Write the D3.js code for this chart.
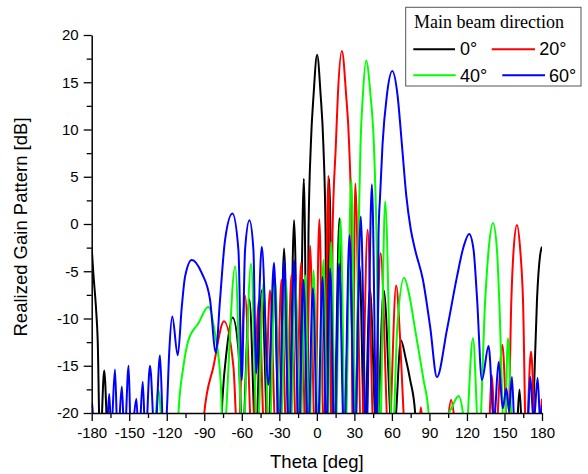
<!DOCTYPE html>
<html>
<head>
<meta charset="utf-8">
<script src="https://cdn.jsdelivr.net/npm/d3@7"></script>
<style>
  html, body { margin: 0; padding: 0; background: #fff; }
  svg { display: block; }
  .tick text { font-family: "Liberation Sans", Arial, sans-serif; font-size: 15px; fill: #000; }
</style>
</head>
<body>
<svg id="chart" width="588" height="474"></svg>
<script>
// ---------- data (theta [deg], realized gain [dB]) ----------
const xTicks = [-180, -150, -120, -90, -60, -30, 0, 30, 60, 90, 120, 150, 180];
const yTicks = [-20, -15, -10, -5, 0, 5, 10, 15, 20];
const seriesNames = ["0°", "20°", "40°", "60°"];
const seriesColors = ["#000000", "#ff0000", "#00ff00", "#0000ff"];

const beam0 = [
  [-180,-2.5],[-178.7,-5.2],[-176.6,-8.8],[-175.2,-12.3],[-173.3,-24],
  [-170,-15.5],[-166.8,-24],[-150,-30],[-100,-30],
  [-77.3,-24],[-75.5,-18.6],[-72,-13.3],[-67.3,-9.9],[-62.7,-13.3],[-61.1,-18.6],[-59.6,-23],
  [-53.9,-8.0],[-48.9,-23],
  [-44,-7.0],[-39,-23],
  [-34.2,-5.4],[-30.1,-23],
  [-26.2,-2.6],[-22.2,-23],
  [-18.2,0.4],[-14.3,-23],
  [-10.4,4.8],[-7.4,-24],
  [-6.7,-1.2],[-4.8,8.4],[-2.6,13.7],[0.2,17.9],[3.0,13.7],[5.2,8.4],[7.0,-1.2],[7.7,-24],
  [9.8,4.8],[13.6,-23],
  [18.1,0.6],[22.1,-23],
  [26.3,-2.5],[30.2,-23],
  [34.1,-4.4],[38.2,-23],
  [42.4,-6.8],[47.8,-23],
  [53.5,-7.0],[60.5,-23],
  [62.8,-21],[67.2,-12.3],[71,-14.2],[74.6,-16.5],[78.6,-20],[80,-24],[90,-30],[150,-30],
  [159.5,-23],[162,-17.5],[164.5,-23],
  [172,-24],[173.5,-18],[176,-8],[178.5,-3.3],[180,-2.4]
];

const beam20 = [
  [-180,-30],[-100,-30],[-91.5,-24],[-90,-20],[-82.7,-15.1],[-74.2,-10.3],[-66.7,-15.1],[-63.3,-23],
  [-57.4,-7.6],[-51.8,-23],
  [-46.3,-8.1],[-41.8,-23],
  [-37.5,-7.0],[-32.6,-23],
  [-28.3,-5.9],[-24.3,-23],
  [-20.3,-5.4],[-16.5,-23],
  [-12.6,-4.1],[-9,-23],
  [-5.4,-2.3],[-1.6,-23],
  [2.0,0.5],[5.6,-23],
  [9.3,5.1],[11.9,-24],
  [12.5,-1.2],[15.2,8.4],[16.8,13.65],[20,18.3],[23.4,13.65],[25.8,8.4],[27.6,-0.5],[28.5,-24],
  [30.7,4.3],[35.6,-23],
  [40.6,-0.6],[45.6,-23],
  [51,-3.1],[57.5,-23],
  [63.4,-6.5],[66.5,-12],[69.3,-20],[70.5,-24],
  [80,-24],[83.2,-19.4],[86,-24],[95,-30],
  [103.8,-22],[107.3,-18.6],[111.3,-22],[120,-30],[130,-30],
  [137.2,-23],[140,-16],[142.6,-23],
  [148.3,-12.8],[152.8,-23],
  [155.5,-8],[157.3,-2.75],[160,-0.1],[162.6,-2.75],[164.8,-8],[167.3,-23],
  [171.2,-13.5],[175,-23],
  [177.2,-22],[180,-18.5]
];

const beam40 = [
  [-180,-30],[-135,-30],[-130.2,-23],[-126.7,-17.6],[-123.2,-23],[-118,-28],
  [-111.6,-24],[-110.6,-20],[-106.7,-15.1],[-102.7,-12.3],[-94.7,-10.5],[-86.7,-8.75],[-81.4,-11.6],[-76.8,-16.9],[-75,-23],
  [-65.3,-4.5],[-59.4,-23],
  [-52.6,-4.2],[-47.5,-23],
  [-42.7,-6.3],[-38.1,-23],
  [-33.4,-5.9],[-29.1,-23],
  [-24.8,-5.9],[-21,-23],
  [-17.4,-5.6],[-13.3,-23],
  [-9.4,-5.4],[-6,-23],
  [-2.7,-4.9],[1.2,-23],
  [5.3,-3.8],[8.4,-23],
  [11.4,-1.9],[14.9,-23],
  [18.9,0.5],[22.7,-23],
  [27.6,4.8],[31,-24],
  [33.3,-1.2],[34.9,8.4],[36.8,13.65],[39.4,17.3],[42.9,13.65],[45.6,8.4],[47.7,-1.2],[50.2,-24],
  [54.6,2.4],[60.5,-23],
  [64.3,-10.9],[69.8,-5.7],[74,-7.6],[78.6,-11.2],[85.3,-16.5],[89.3,-20],[91,-24],[100,-30],
  [103,-21],[108,-19.4],[113.3,-18.2],[117.2,-20.5],[118.7,-23],
  [124.8,-12.1],[129.6,-23],
  [134.6,-8],[137.3,-2.75],[140.8,0.1],[144,-2.75],[145.8,-8],[150,-23],
  [152.8,-12.1],[156.5,-24],[165,-30],[180,-30]
];

const beam60 = [
  [-180,-19.5],[-179.4,-19],[-178.2,-24],[-170,-28],
  [-167.8,-22],[-166,-18],[-164.4,-22],
  [-161.4,-15.4],[-159.2,-23],
  [-155.9,-17.2],[-153.8,-23],
  [-150.5,-15],[-148.6,-23],
  [-144.3,-18.5],[-142.3,-23],
  [-139.2,-16.7],[-137,-23],
  [-133.4,-15],[-129.5,-23],
  [-125.4,-13.9],[-122.5,-23],
  [-120,-20],[-118,-13.5],[-115.6,-9.8],[-111.2,-13.9],[-108,-8.8],[-105.4,-5.6],[-100,-3.8],[-92,-5.2],[-85.4,-8.0],[-80.8,-13.6],
  [-77.4,-8],[-73.4,-1.7],[-67.5,1.1],[-62.7,-2.75],[-60,-16.5],
  [-57.4,-2.75],[-53.9,0.4],[-50.7,-2.75],[-48.6,-15.8],
  [-44,-2.4],[-38.8,-17],
  [-34.2,-4.1],[-30.2,-23],
  [-26.2,-3.8],[-22.2,-23],
  [-18.2,-3.8],[-14.4,-23],
  [-10.7,-5.9],[-7,-23],
  [-3.2,-6.8],[0.6,-23],
  [4.5,-5.6],[7.6,-23],
  [10.6,-4.7],[14.2,-23],
  [17.8,-4.2],[21.8,-23],
  [26.1,-1.2],[30.4,-23],
  [35.1,0.8],[39.5,-23],
  [44,4.2],[48,-24],
  [49.3,-1.2],[50.6,3.1],[52.5,8.4],[56,13.65],[60.3,16.2],[64.5,13.65],[68,8.4],[71.5,3],[75,-0.5],[78.6,-2.75],[84.8,-5.9],[90.6,-10.9],[96,-16.2],
  [104,-11.2],[112,-5.6],[117.3,-2.4],[121.8,-1.05],[125.3,-2.75],[128,-7.7],[132,-16.5],
  [137.3,-12.9],[141.6,-21],
  [145.3,-14.6],[148.6,-19.5],
  [151.5,-17.4],[153.6,-19.8],
  [156,-16.2],[158.5,-24],[164,-28],
  [168.3,-23],[170.6,-16.2],[173.4,-21],
  [176.5,-16.3],[178.6,-21],[180,-19.2]
];

const seriesData = [beam0, beam20, beam40, beam60];

// ---------- drawing ----------
const svg = d3.select("#chart");
const plot = { left: 91.7, right: 542, top: 35, bottom: 413 };

const x = d3.scaleLinear().domain([-180, 180]).range([plot.left, plot.right]);
const y = d3.scaleLinear().domain([-20, 20]).range([plot.bottom, plot.top]);

svg.append("defs").append("clipPath").attr("id", "clip")
  .append("rect")
  .attr("x", plot.left).attr("y", plot.top - 2)
  .attr("width", plot.right - plot.left).attr("height", plot.bottom - plot.top + 2);

const line = d3.line()
  .x(d => x(d[0]))
  .y(d => y(d[1]))
  .curve(d3.curveMonotoneX);

const lines = svg.append("g").attr("clip-path", "url(#clip)");
seriesData.forEach((s, i) => {
  lines.append("path")
    .datum(s)
    .attr("fill", "none")
    .attr("stroke", seriesColors[i])
    .attr("stroke-width", 2)
    .attr("stroke-linejoin", "round")
    .attr("d", line);
});

// minor ticks
const xMinor = d3.range(-165, 180, 30);
const yMinor = d3.range(-17.5, 20, 5);

svg.append("g")
  .attr("transform", `translate(0,${plot.bottom})`)
  .call(d3.axisBottom(x).tickValues(xMinor).tickSize(5).tickFormat(""))
  .call(g => g.select(".domain").remove())
  .call(g => g.selectAll("line").attr("stroke-width", 1.3));

svg.append("g")
  .attr("transform", `translate(${plot.left},0)`)
  .call(d3.axisLeft(y).tickValues(yMinor).tickSize(5).tickFormat(""))
  .call(g => g.select(".domain").remove())
  .call(g => g.selectAll("line").attr("stroke-width", 1.3));

// major axes
const xAxis = svg.append("g")
  .attr("transform", `translate(0,${plot.bottom})`)
  .call(d3.axisBottom(x).tickValues(xTicks).tickSize(8).tickSizeOuter(0).tickPadding(6).tickFormat(d => String(d)));
xAxis.select(".domain").attr("stroke-width", 1.5);
xAxis.selectAll("line").attr("stroke-width", 1.3);

const yAxis = svg.append("g")
  .attr("transform", `translate(${plot.left},0)`)
  .call(d3.axisLeft(y).tickValues(yTicks).tickSize(8).tickSizeOuter(0).tickPadding(5).tickFormat(d => String(d)));
yAxis.select(".domain").attr("stroke-width", 1.5);
yAxis.selectAll("line").attr("stroke-width", 1.3);

// axis titles
svg.append("text")
  .attr("x", (plot.left + plot.right) / 2)
  .attr("y", 468)
  .attr("text-anchor", "middle")
  .style("font-family", "'Liberation Sans', Arial, sans-serif")
  .style("font-size", "18.5px")
  .text("Theta [deg]");

svg.append("text")
  .attr("transform", `translate(27,${(plot.top + plot.bottom) / 2 + 3}) rotate(-90)`)
  .attr("text-anchor", "middle")
  .style("font-family", "'Liberation Sans', Arial, sans-serif")
  .style("font-size", "18.5px")
  .text("Realized Gain Pattern [dB]");

// legend
const lg = svg.append("g");
lg.append("rect")
  .attr("x", 405.7).attr("y", 7.3)
  .attr("width", 581 - 405.7).attr("height", 86 - 7.3)
  .attr("fill", "#fff").attr("stroke", "#555").attr("stroke-width", 1);
lg.append("text")
  .attr("x", 414).attr("y", 27.5)
  .style("font-family", "'Liberation Serif', 'Times New Roman', serif")
  .style("font-size", "18px")
  .text("Main beam direction");

const legendPos = [
  { x1: 413.3, x2: 455, ly: 49.3, tx: 460, ty: 55 },
  { x1: 491.7, x2: 535, ly: 49.3, tx: 539.3, ty: 55 },
  { x1: 413.3, x2: 455.7, ly: 75.3, tx: 460, ty: 81.5 },
  { x1: 502.3, x2: 545, ly: 75.3, tx: 549, ty: 81.5 }
];
legendPos.forEach((p, i) => {
  lg.append("line")
    .attr("x1", p.x1).attr("x2", p.x2).attr("y1", p.ly).attr("y2", p.ly)
    .attr("stroke", seriesColors[i]).attr("stroke-width", 2);
  lg.append("text")
    .attr("x", p.tx).attr("y", p.ty)
    .style("font-family", "'Liberation Sans', Arial, sans-serif")
    .style("font-size", "18px")
    .text(seriesNames[i]);
});
</script>
</body>
</html>
